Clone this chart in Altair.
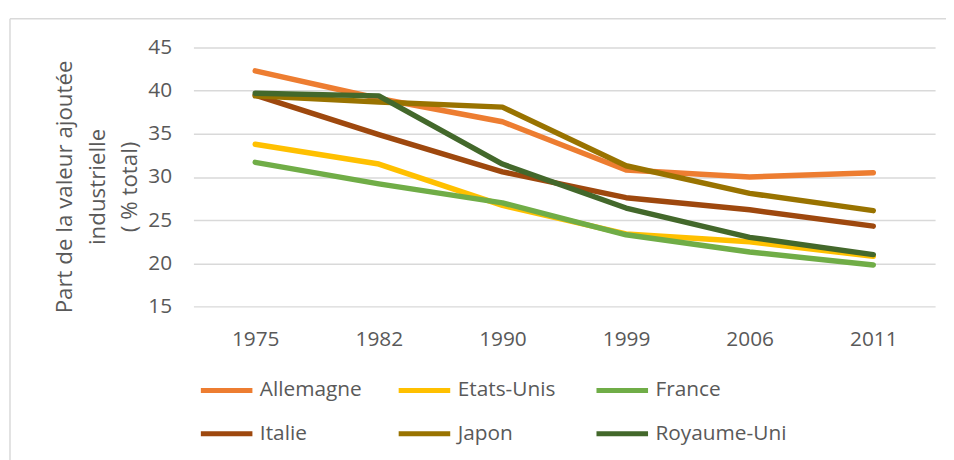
import altair as alt
import pandas as pd

years = ["1975", "1982", "1990", "1999", "2006", "2011"]
countries = ["Allemagne", "Etats-Unis", "France", "Italie", "Japon", "Royaume-Uni"]
allemagne = [42.3, 39.1, 36.4, 30.8, 30.0, 30.5]
etats_unis = [33.8, 31.5, 26.7, 23.4, 22.5, 20.8]
france = [31.7, 29.2, 27.0, 23.3, 21.3, 19.8]
italie = [39.5, 34.9, 30.6, 27.6, 26.2, 24.3]
japon = [39.4, 38.7, 38.1, 31.3, 28.1, 26.1]
royaume_uni = [39.7, 39.4, 31.5, 26.4, 23.0, 21.0]
colors = ["#ED7D31", "#FFC000", "#70AD47", "#9E480E", "#997300", "#43682B"]
y_ticks = [15, 20, 25, 30, 35, 40, 45]
y_title = ["Part de la valeur ajoutée", "industrielle", "( % total)"]

series = [allemagne, etats_unis, france, italie, japon, royaume_uni]
rows = []
for name, vals in zip(countries, series):
    for yr, v in zip(years, vals):
        rows.append({"Année": yr, "Pays": name, "Valeur": v})
df = pd.DataFrame(rows)

FONT = "Open Sans"
GREY = "#595959"

lines = alt.Chart(df).mark_line(strokeWidth=5.5, strokeCap="round", strokeJoin="round").encode(
    x=alt.X("Année:O", sort=years,
            scale=alt.Scale(type="point", padding=0.5),
            axis=alt.Axis(title=None, labelAngle=0, domain=False, ticks=False,
                          labelPadding=22, labelFont=FONT, labelFontSize=21,
                          labelColor=GREY, grid=False)),
    y=alt.Y("Valeur:Q", scale=alt.Scale(domain=[15, 45], nice=False, zero=False),
            axis=alt.Axis(values=y_ticks, title=y_title, domain=False, ticks=False,
                          labelPadding=22, labelFont=FONT, labelFontSize=21,
                          labelColor=GREY, gridColor="#d9d9d9", gridWidth=1.5,
                          titleFont=FONT, titleFontSize=22.5, titleFontWeight="normal",
                          titleColor=GREY, titleLineHeight=33, titlePadding=6,
                          titleY=140)),
    color=alt.Color("Pays:N", sort=countries,
                    scale=alt.Scale(domain=countries, range=colors),
                    legend=alt.Legend(title=None, orient="none", legendX=5, legendY=317,
                                      direction="horizontal",
                                      columns=3, gridAlign="all", columnPadding=-3.5,
                                      rowPadding=5, symbolType="stroke",
                                      symbolSize=2704, symbolStrokeWidth=5,
                                      labelFont=FONT, labelFontSize=21,
                                      labelColor=GREY, labelOffset=5, padding=0)),
    order=alt.Order("Pays:N"),
)

frame_df = pd.DataFrame({"k": [0]})
top_border = alt.Chart(frame_df).mark_rule(color="#d9d9d9", strokeWidth=1.5).encode(
    x=alt.value(-185), x2=alt.value(770), y=alt.value(-29))
left_border = alt.Chart(frame_df).mark_rule(color="#d9d9d9", strokeWidth=1.5).encode(
    x=alt.value(-185), y=alt.value(-29), y2=alt.value(430))

chart = alt.layer(top_border, left_border, lines).properties(
    width=748, height=261,
    autosize=alt.AutoSizeParams(type="none"),
    padding={"left": 187, "top": 38, "right": 11, "bottom": 153},
).configure_view(stroke=None)

chart.save("out.html", embed_options={"renderer": "svg", "actions": False})
